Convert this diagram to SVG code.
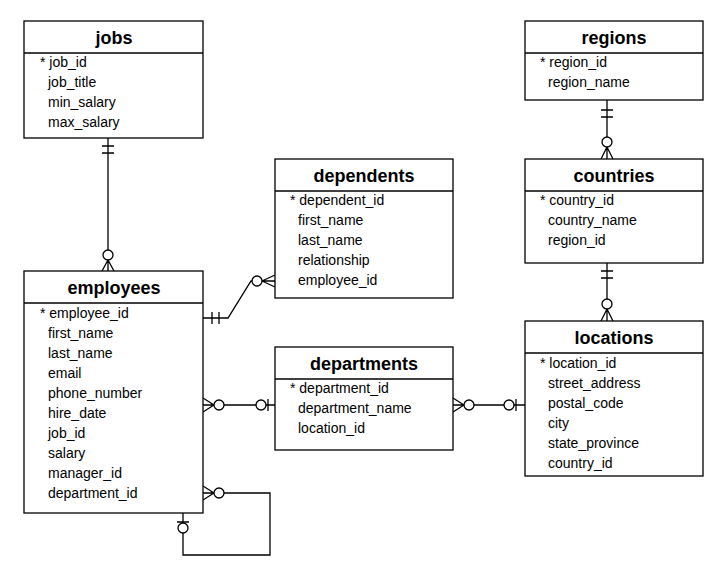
<svg xmlns="http://www.w3.org/2000/svg" width="723" height="583" viewBox="0 0 723 583">
<style>
.box{fill:#fff;stroke:#000;stroke-width:1.3}
.t{font-family:"Liberation Sans",Arial,sans-serif;font-size:18px;font-weight:bold;text-anchor:middle;fill:#000}
.r{font-family:"Liberation Sans",Arial,sans-serif;font-size:14px;fill:#000}
.c{fill:none;stroke:#000;stroke-width:1.3}
.o{fill:#fff;stroke:#000;stroke-width:1.3}
</style>
<rect width="723" height="583" fill="#fff"/>
<g id="connectors">
  <!-- jobs - employees -->
  <path class="c" d="M108 138V271M102 146H114M102 153H114M108 260L102 271M108 260L114 271"/>
  <circle class="o" cx="108" cy="255" r="5"/>
  <!-- employees - dependents -->
  <path class="c" d="M203 318H228L251 281H275M212 312V324M219 312V324M262 281L275 275M262 281L275 287"/>
  <circle class="o" cx="257" cy="281" r="5"/>
  <!-- employees - departments -->
  <path class="c" d="M203 405H275M214 405L203 398M214 405L203 412M268 399V411"/>
  <circle class="o" cx="219" cy="405" r="5"/>
  <circle class="o" cx="261" cy="405" r="5"/>
  <!-- departments - locations -->
  <path class="c" d="M453 405H525M464 405L453 398M464 405L453 412M516 399V411"/>
  <circle class="o" cx="469" cy="405" r="5"/>
  <circle class="o" cx="509" cy="405" r="5"/>
  <!-- self reference -->
  <path class="c" d="M203 493H270V555H183V513M214 493L203 486M214 493L203 500M177 522H189"/>
  <circle class="o" cx="219" cy="493" r="5"/>
  <circle class="o" cx="183" cy="528" r="5"/>
  <!-- regions - countries -->
  <path class="c" d="M607 100V159M601 110H613M601 117H613M607 147L601 159M607 147L613 159"/>
  <circle class="o" cx="607" cy="142" r="5"/>
  <!-- countries - locations -->
  <path class="c" d="M607 263V321M601 271H613M601 278H613M607 309L601 321M607 309L613 321"/>
  <circle class="o" cx="607" cy="304" r="5"/>
</g>
<g id="jobs">
  <rect class="box" x="24" y="21" width="179" height="117"/>
  <line class="c" x1="24" y1="53" x2="203" y2="53"/>
  <text class="t" x="114" y="44">jobs</text>
  <text class="r" x="40" y="67">* job_id</text>
  <text class="r" x="48" y="87">job_title</text>
  <text class="r" x="48" y="107">min_salary</text>
  <text class="r" x="48" y="127">max_salary</text>
</g>
<g id="employees">
  <rect class="box" x="24" y="271" width="179" height="242"/>
  <line class="c" x1="24" y1="303" x2="203" y2="303"/>
  <text class="t" x="114" y="294">employees</text>
  <text class="r" x="40" y="318">* employee_id</text>
  <text class="r" x="48" y="338">first_name</text>
  <text class="r" x="48" y="358">last_name</text>
  <text class="r" x="48" y="378">email</text>
  <text class="r" x="48" y="398">phone_number</text>
  <text class="r" x="48" y="418">hire_date</text>
  <text class="r" x="48" y="438">job_id</text>
  <text class="r" x="48" y="458">salary</text>
  <text class="r" x="48" y="478">manager_id</text>
  <text class="r" x="48" y="498">department_id</text>
</g>
<g id="dependents">
  <rect class="box" x="275" y="159" width="178" height="139"/>
  <line class="c" x1="275" y1="191" x2="453" y2="191"/>
  <text class="t" x="364" y="182">dependents</text>
  <text class="r" x="290" y="205">* dependent_id</text>
  <text class="r" x="298" y="225">first_name</text>
  <text class="r" x="298" y="245">last_name</text>
  <text class="r" x="298" y="265">relationship</text>
  <text class="r" x="298" y="285">employee_id</text>
</g>
<g id="departments">
  <rect class="box" x="275" y="347" width="178" height="103"/>
  <line class="c" x1="275" y1="379" x2="453" y2="379"/>
  <text class="t" x="364" y="370">departments</text>
  <text class="r" x="290" y="393">* department_id</text>
  <text class="r" x="298" y="413">department_name</text>
  <text class="r" x="298" y="433">location_id</text>
</g>
<g id="regions">
  <rect class="box" x="525" y="21" width="178" height="79"/>
  <line class="c" x1="525" y1="53" x2="703" y2="53"/>
  <text class="t" x="614" y="44">regions</text>
  <text class="r" x="540" y="67">* region_id</text>
  <text class="r" x="548" y="87">region_name</text>
</g>
<g id="countries">
  <rect class="box" x="525" y="159" width="178" height="104"/>
  <line class="c" x1="525" y1="191" x2="703" y2="191"/>
  <text class="t" x="614" y="182">countries</text>
  <text class="r" x="540" y="205">* country_id</text>
  <text class="r" x="548" y="225">country_name</text>
  <text class="r" x="548" y="245">region_id</text>
</g>
<g id="locations">
  <rect class="box" x="525" y="321" width="178" height="155"/>
  <line class="c" x1="525" y1="353" x2="703" y2="353"/>
  <text class="t" x="614" y="344">locations</text>
  <text class="r" x="540" y="368">* location_id</text>
  <text class="r" x="548" y="388">street_address</text>
  <text class="r" x="548" y="408">postal_code</text>
  <text class="r" x="548" y="428">city</text>
  <text class="r" x="548" y="448">state_province</text>
  <text class="r" x="548" y="468">country_id</text>
</g>
</svg>
